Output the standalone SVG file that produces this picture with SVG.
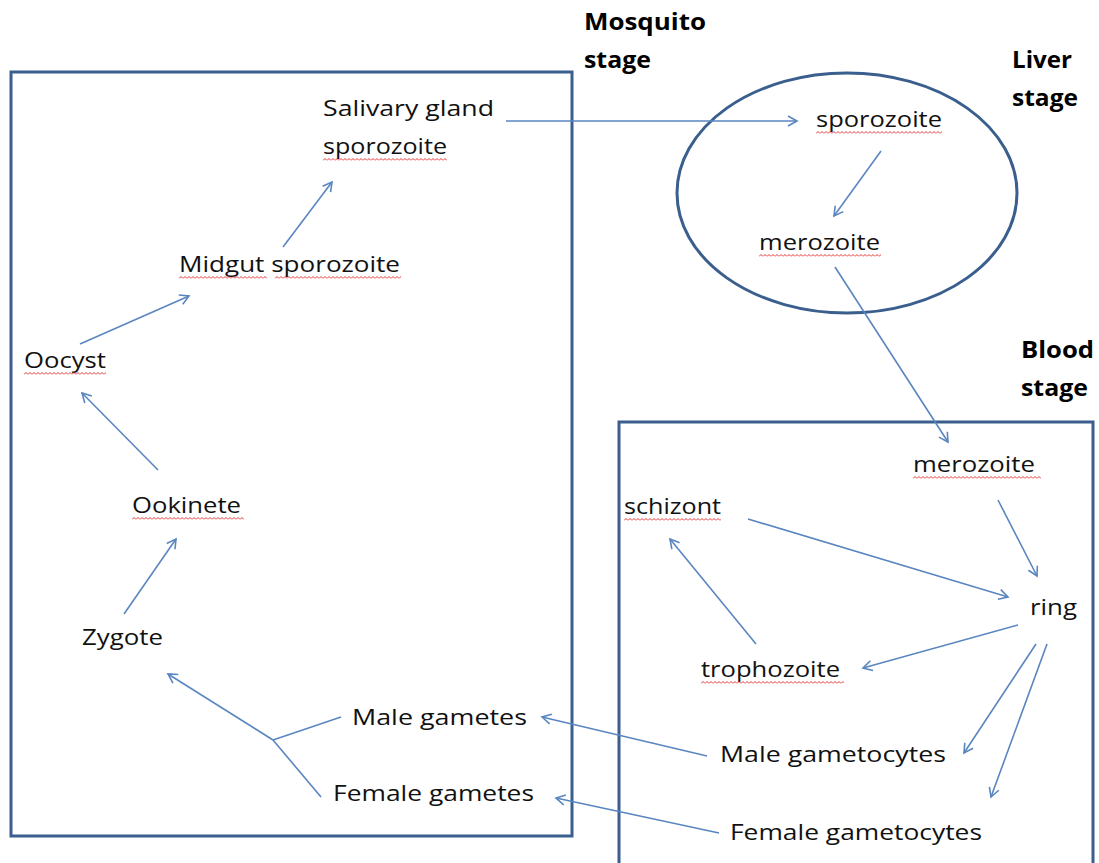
<svg xmlns="http://www.w3.org/2000/svg" width="1099" height="863" viewBox="0 0 1099 863">
<style>
.t{font-family:"Open Sans","Liberation Sans",sans-serif;font-size:21px;fill:#111}
.b{font-family:"Open Sans","Liberation Sans",sans-serif;font-size:23px;font-weight:bold;fill:#000}
.box{fill:none;stroke:#3A5F8E;stroke-width:3}
.c{stroke:#5A86C0;stroke-width:1.6;fill:none}
.sq{fill:url(#wave)}
</style>
<defs>
<marker id="ah" markerWidth="14" markerHeight="14" refX="10" refY="6" orient="auto" markerUnits="userSpaceOnUse">
<path d="M1,1 L10,6 L1,11" fill="none" stroke="#5A86C0" stroke-width="1.6"/>
</marker>
<pattern id="wave" width="4" height="3" patternUnits="userSpaceOnUse">
<path d="M0,2.5 L2,0.5 L4,2.5" fill="none" stroke="#E02020" stroke-width="0.9"/>
</pattern>
</defs>
<rect width="1099" height="863" fill="#fff"/>
<g id="mosquito-box"><rect class="box" x="11" y="72" width="561" height="764"/></g>
<g id="liver-ellipse"><ellipse class="box" cx="847" cy="193" rx="170" ry="120"/></g>
<g id="blood-box"><path class="box" d="M619,866 L619,422 L1093,422 L1093,866"/></g>
<g id="stage-labels">
<text class="b" x="584" y="30" textLength="122" lengthAdjust="spacingAndGlyphs">Mosquito</text>
<text class="b" x="584" y="68" textLength="67" lengthAdjust="spacingAndGlyphs">stage</text>
<text class="b" x="1012" y="68" textLength="60" lengthAdjust="spacingAndGlyphs">Liver</text>
<text class="b" x="1012" y="106" textLength="66" lengthAdjust="spacingAndGlyphs">stage</text>
<text class="b" x="1021" y="358" textLength="73" lengthAdjust="spacingAndGlyphs">Blood</text>
<text class="b" x="1021" y="396" textLength="67" lengthAdjust="spacingAndGlyphs">stage</text>
</g>
<g id="salivary"><text class="t" x="323" y="116" textLength="171" lengthAdjust="spacingAndGlyphs">Salivary gland</text><text class="t" x="323" y="154" textLength="124" lengthAdjust="spacingAndGlyphs">sporozoite</text><rect class="sq" transform="translate(323,158)" width="124" height="3"/></g>
<g id="liver-sporozoite"><text class="t" x="816" y="127" textLength="126" lengthAdjust="spacingAndGlyphs">sporozoite</text><rect class="sq" transform="translate(816,131)" width="126" height="3"/></g>
<g id="liver-merozoite"><text class="t" x="759" y="250" textLength="121" lengthAdjust="spacingAndGlyphs">merozoite</text><rect class="sq" transform="translate(759,254)" width="122" height="3"/></g>
<g id="midgut"><text class="t" x="179" y="272" textLength="221" lengthAdjust="spacingAndGlyphs">Midgut sporozoite</text><rect class="sq" transform="translate(179,276)" width="88" height="3"/><rect class="sq" transform="translate(275,276)" width="126" height="3"/></g>
<g id="oocyst"><text class="t" x="24" y="368" textLength="82" lengthAdjust="spacingAndGlyphs">Oocyst</text><rect class="sq" transform="translate(24,372)" width="82" height="3"/></g>
<g id="ookinete"><text class="t" x="132" y="513" textLength="109" lengthAdjust="spacingAndGlyphs">Ookinete</text><rect class="sq" transform="translate(132,517)" width="112" height="3"/></g>
<g id="zygote"><text class="t" x="82" y="645" textLength="81" lengthAdjust="spacingAndGlyphs">Zygote</text></g>
<g id="male-gametes"><text class="t" x="352" y="725" textLength="175" lengthAdjust="spacingAndGlyphs">Male gametes</text></g>
<g id="female-gametes"><text class="t" x="333" y="801" textLength="201" lengthAdjust="spacingAndGlyphs">Female gametes</text></g>
<g id="blood-merozoite"><text class="t" x="913" y="472" textLength="122" lengthAdjust="spacingAndGlyphs">merozoite</text><rect class="sq" transform="translate(913,476)" width="128" height="3"/></g>
<g id="schizont"><text class="t" x="624" y="514" textLength="97" lengthAdjust="spacingAndGlyphs">schizont</text><rect class="sq" transform="translate(624,518)" width="97" height="3"/></g>
<g id="ring"><text class="t" x="1030" y="615" textLength="47" lengthAdjust="spacingAndGlyphs">ring</text></g>
<g id="trophozoite"><text class="t" x="701" y="677" textLength="139" lengthAdjust="spacingAndGlyphs">trophozoite</text><rect class="sq" transform="translate(701,681)" width="143" height="3"/></g>
<g id="male-gametocytes"><text class="t" x="720" y="762" textLength="226" lengthAdjust="spacingAndGlyphs">Male gametocytes</text></g>
<g id="female-gametocytes"><text class="t" x="730" y="840" textLength="252" lengthAdjust="spacingAndGlyphs">Female gametocytes</text></g>
<g id="connectors">
<line class="c" x1="506" y1="121" x2="797" y2="121" marker-end="url(#ah)"/>
<line class="c" x1="881" y1="151" x2="834" y2="216" marker-end="url(#ah)"/>
<line class="c" x1="835" y1="267" x2="948" y2="442" marker-end="url(#ah)"/>
<line class="c" x1="283" y1="247" x2="332" y2="182" marker-end="url(#ah)"/>
<line class="c" x1="80" y1="344" x2="189" y2="296" marker-end="url(#ah)"/>
<line class="c" x1="158" y1="470" x2="82" y2="393" marker-end="url(#ah)"/>
<line class="c" x1="124" y1="614" x2="176" y2="539" marker-end="url(#ah)"/>
<line class="c" x1="341" y1="717" x2="273" y2="740"/>
<line class="c" x1="321" y1="797" x2="273" y2="740"/>
<line class="c" x1="273" y1="740" x2="168" y2="674" marker-end="url(#ah)"/>
<line class="c" x1="707" y1="756" x2="542" y2="717" marker-end="url(#ah)"/>
<line class="c" x1="719" y1="833" x2="556" y2="798" marker-end="url(#ah)"/>
<line class="c" x1="998" y1="500" x2="1037" y2="576" marker-end="url(#ah)"/>
<line class="c" x1="748" y1="519" x2="1008" y2="597" marker-end="url(#ah)"/>
<line class="c" x1="1018" y1="625" x2="863" y2="668" marker-end="url(#ah)"/>
<line class="c" x1="756" y1="644" x2="670" y2="539" marker-end="url(#ah)"/>
<line class="c" x1="1036" y1="644" x2="964" y2="753" marker-end="url(#ah)"/>
<line class="c" x1="1047" y1="644" x2="991" y2="797" marker-end="url(#ah)"/>
</g>
</svg>
